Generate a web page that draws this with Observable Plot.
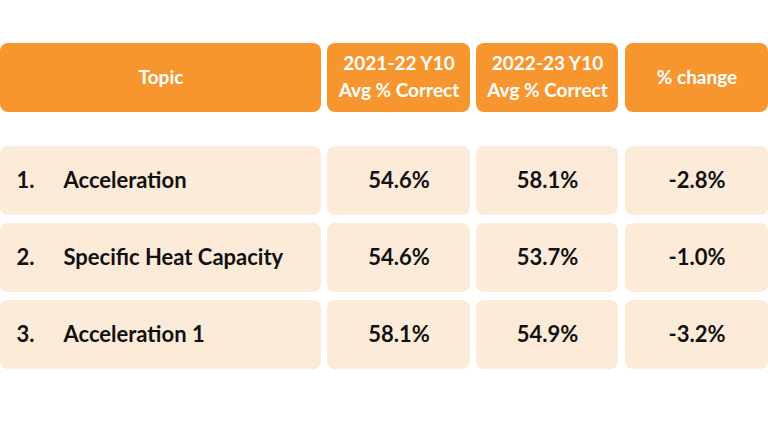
<!DOCTYPE html>
<html>
<head>
<meta charset="utf-8">
<script src="https://cdn.jsdelivr.net/npm/d3@7"></script>
<script src="https://cdn.jsdelivr.net/npm/@observablehq/plot@0.6"></script>
<style>
  html, body { margin: 0; padding: 0; background: #ffffff; }
  #chart svg { display: block; }
</style>
</head>
<body>
<div id="chart"></div>
<script>
// ---- data ----
const headers = ["Topic", "2021-22 Y10\nAvg % Correct", "2022-23 Y10\nAvg % Correct", "% change"];
const ranks = [1, 2, 3];
const topics = ["Acceleration", "Specific Heat Capacity", "Acceleration 1"];
const avg2122 = [54.6, 54.6, 58.1];
const avg2223 = [58.1, 53.7, 54.9];
const pctChange = [-2.8, -1.0, -3.2];

// ---- layout (pixel units) ----
const W = 768, H = 432;
const cols = [[0, 321], [327, 470], [476, 618], [625, 768]];
const headerY = [43, 112];
const rowTop0 = 146, rowStep = 77, rowH = 69;
const orange = "#F7962F", peach = "#FDEBDA";
const font = "Lato, 'Open Sans', sans-serif";

const headerCells = headers.map((h, i) => ({label: h, x1: cols[i][0], x2: cols[i][1], y1: headerY[0], y2: headerY[1]}));
const bodyCells = [];
const fmt = v => v.toFixed(1) + "%";
ranks.forEach((r, i) => {
  const y1 = rowTop0 + (r - 1) * rowStep, y2 = y1 + rowH;
  const vals = [null, fmt(avg2122[i]), fmt(avg2223[i]), fmt(pctChange[i])];
  cols.forEach((c, j) => bodyCells.push({x1: c[0], x2: c[1], y1, y2, label: vals[j], rank: r, topic: topics[i]}));
});
const topicCells = bodyCells.filter((d, k) => k % 4 === 0);
const valueCells = bodyCells.filter((d, k) => k % 4 !== 0);

const chart = Plot.plot({
  width: W, height: H, margin: 0,
  x: {domain: [0, W], range: [0, W], axis: null},
  y: {domain: [0, H], range: [0, H], axis: null},
  style: {fontFamily: font, background: "#ffffff"},
  marks: [
    Plot.rect(headerCells, {x1: "x1", x2: "x2", y1: "y1", y2: "y2", fill: orange, rx: 8}),
    Plot.rect(bodyCells, {x1: "x1", x2: "x2", y1: "y1", y2: "y2", fill: peach, rx: 8}),
    Plot.text(headerCells, {
      x: d => (d.x1 + d.x2) / 2, y: d => (d.y1 + d.y2) / 2, text: "label", dy: -3,
      fill: "#ffffff", fontSize: 19, fontWeight: "bold", lineHeight: 1.42, fontFamily: font
    }),
    Plot.text(topicCells, {
      x: d => d.x1 + 16, y: d => (d.y1 + d.y2) / 2, text: d => d.rank + ".",
      textAnchor: "start", fill: "#111111", fontSize: 22, fontWeight: "bold", fontFamily: font
    }),
    Plot.text(topicCells, {
      x: d => d.x1 + 63, y: d => (d.y1 + d.y2) / 2, text: "topic",
      textAnchor: "start", fill: "#111111", fontSize: 22, fontWeight: "bold", fontFamily: font
    }),
    Plot.text(valueCells, {
      x: d => (d.x1 + d.x2) / 2, y: d => (d.y1 + d.y2) / 2, text: "label",
      fill: "#111111", fontSize: 22, fontWeight: "bold", fontFamily: font
    })
  ]
});
document.getElementById("chart").appendChild(chart);
</script>
</body>
</html>
